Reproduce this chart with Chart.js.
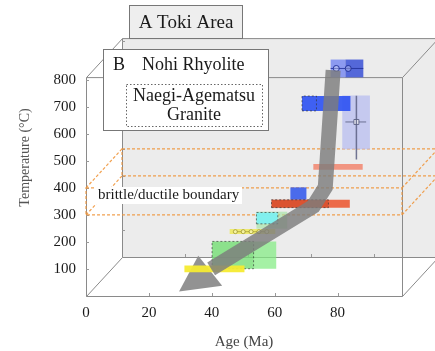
<!DOCTYPE html>
<html>
<head>
<meta charset="utf-8">
<script src="https://cdn.jsdelivr.net/npm/chart.js@4/dist/chart.umd.min.js"></script>
<style>
  html, body { margin: 0; padding: 0; background: #fff; }
</style>
</head>
<body>
<canvas id="tokiChart" width="435" height="351"></canvas>
<script>
// --- axis ticks ---
const xTicks = [0, 20, 40, 60, 80];
const yTicks = [100, 200, 300, 400, 500, 600, 700, 800];

// --- age / temperature boxes (Ma, degC) ---
const boxAgeFrom  = [81.5, 77.8, 82.5, 68.7, 68.7, 72.3, 65.0, 59.0, 59.0, 54.2, 54.2, 45.7, 40.1, 40.1, 31.3];
const boxAgeTo    = [90.3, 82.5, 88.2, 84.1, 73.3, 88.0, 70.1, 83.9, 77.1, 64.0, 61.0, 60.2, 60.5, 53.3, 50.4];
const boxTempFrom = [543, 809, 809, 685, 685, 467, 356, 327, 327, 249, 267, 229, 101, 101, 88];
const boxTempTo   = [742, 875, 875, 740, 740, 488, 402, 356, 356, 312, 309, 248, 202, 202, 113];
const boxColors = [
    'rgba(188,193,240,0.8)', 'rgba(135,150,240,0.95)', 'rgba(70,92,215,0.92)',
    'rgba(48,84,242,0.92)', 'rgba(48,84,242,0.0)', 'rgba(242,140,118,0.9)',
    'rgba(60,95,235,0.92)', 'rgba(236,92,55,0.9)', 'rgba(200,55,20,0.45)',
    'rgba(165,228,165,0.65)', 'rgba(125,240,240,0.95)', 'rgba(238,234,105,0.95)',
    'rgba(130,235,130,0.72)', 'rgba(95,200,95,0.3)', 'rgba(245,235,50,0.95)'
];
const boxDashed = [false, false, false, false, true, false, false, false, true, false, true, false, false, true, false];

// --- cooling path (grey arrow) ---
const pathAge  = [78.6, 76.1, 72.3, 39.8];
const pathTemp = [835, 402, 332, 100];
const headAge  = [29.6, 35.7, 43.3, 29.6];
const headTemp = [17, 149, 38, 17];

// --- error bars / symbols ---
const topBarAge  = [77.8, 79.6, 83.4, 88.2];
const topBarTemp = [842, 842, 842, 842];
const granBarAge  = [86.0, 86.0, 86.0];
const granBarTemp = [741, 644, 505];
const granWhiskAge  = [82.5, 86.0, 89.1];
const granWhiskTemp = [644, 644, 644];
const zrnAge  = [47.5, 50.0, 52.5, 55.0, 57.5];
const zrnTemp = [238, 238, 238, 238, 238];

// brittle/ductile boundary (degC)
const bdLow = 300, bdHigh = 400;
// front face extent of the box
const faceAgeMax = 100.5, faceTempMax = 810;
// 3D depth offset, px
const depthDx = 36, depthDy = -39;

const serif = "'Liberation Serif', 'DejaVu Serif', serif";

function toPts(xs, ys) {
    return xs.map((v, i) => ({ x: v, y: ys[i] }));
}

const datasets = [];

// grey shaft on top
datasets.push({
    data: toPts(pathAge, pathTemp),
    showLine: true,
    borderColor: 'rgba(125,125,125,0.82)',
    borderWidth: 15,
    borderJoinStyle: 'miter',
    borderCapStyle: 'butt',
    pointRadius: 0,
    tension: 0,
    clip: false,
    order: 0
});

// error bars
datasets.push({
    data: toPts(topBarAge, topBarTemp),
    showLine: true,
    borderColor: 'rgba(30,45,150,0.8)',
    borderWidth: 1,
    pointRadius: [0, 3, 3, 0],
    pointBackgroundColor: 'rgba(255,255,255,0.3)',
    pointBorderColor: 'rgba(30,45,150,0.9)',
    clip: false,
    order: 1
});
datasets.push({
    data: toPts(granBarAge, granBarTemp),
    showLine: true,
    borderColor: 'rgba(90,95,130,0.85)',
    borderWidth: 1.5,
    pointRadius: 0,
    clip: false,
    order: 1
});
datasets.push({
    data: toPts(granWhiskAge, granWhiskTemp),
    showLine: true,
    borderColor: 'rgba(90,95,130,0.85)',
    borderWidth: 1,
    pointStyle: 'rect',
    pointRadius: [0, 3.5, 0],
    pointBackgroundColor: '#f4f4fb',
    pointBorderColor: 'rgba(90,95,130,0.9)',
    clip: false,
    order: 1
});
datasets.push({
    data: toPts(zrnAge, zrnTemp),
    showLine: true,
    borderColor: 'rgba(150,140,40,0.6)',
    borderWidth: 1,
    pointRadius: 2,
    pointBackgroundColor: 'rgba(250,248,170,0.9)',
    pointBorderColor: 'rgba(150,140,40,0.7)',
    clip: false,
    order: 1
});

// boxes
boxAgeFrom.forEach((a0, i) => {
    const a1 = boxAgeTo[i], t0 = boxTempFrom[i], t1 = boxTempTo[i];
    datasets.push({
        data: toPts([a0, a1, a1, a0, a0], [t0, t0, t1, t1, t0]),
        showLine: true,
        fill: 'shape',
        backgroundColor: boxColors[i],
        borderColor: boxDashed[i] ? 'rgba(50,50,50,0.65)' : 'rgba(0,0,0,0)',
        borderWidth: boxDashed[i] ? 1 : 0,
        borderDash: [2, 2],
        pointRadius: 0,
        tension: 0,
        clip: false,
        order: 100 - i
    });
    // arrow head sits just behind the lowest yellow bar
    if (i === boxAgeFrom.length - 2) {
        datasets.push({
            data: toPts(headAge, headTemp),
            showLine: true,
            fill: 'shape',
            backgroundColor: 'rgba(140,140,140,0.95)',
            borderWidth: 0,
            pointRadius: 0,
            tension: 0,
            clip: false,
            order: 100 - i - 0.5
        });
    }
});

// --- 3D frame, drawn behind the data ---
const frame3d = {
    id: 'frame3d',
    beforeDatasetsDraw(chart) {
        const { ctx, scales: { x, y } } = chart;
        const L = x.getPixelForValue(0), R = x.getPixelForValue(faceAgeMax);
        const B = y.getPixelForValue(0), T = y.getPixelForValue(faceTempMax);
        ctx.save();

        // back wall
        ctx.fillStyle = '#ececec';
        ctx.fillRect(L + depthDx, T + depthDy, R - L, B - T);

        ctx.strokeStyle = '#8a8a8a';
        ctx.lineWidth = 1;
        ctx.beginPath();
        ctx.rect(L + 0.5, T + 0.5, R - L, B - T);
        ctx.rect(L + depthDx + 0.5, T + depthDy + 0.5, R - L, B - T);
        [[L, T], [R, T], [L, B], [R, B]].forEach(([px, py]) => {
            ctx.moveTo(px + 0.5, py + 0.5);
            ctx.lineTo(px + depthDx + 0.5, py + depthDy + 0.5);
        });
        ctx.stroke();

        // small tick marks on front and back edges
        ctx.strokeStyle = '#999';
        ctx.beginPath();
        yTicks.forEach(v => {
            const py = Math.round(y.getPixelForValue(v)) + 0.5;
            ctx.moveTo(L, py); ctx.lineTo(L + 3, py);
            ctx.moveTo(L + depthDx, py + depthDy); ctx.lineTo(L + depthDx + 3, py + depthDy);
        });
        xTicks.slice(1).forEach(v => {
            const px = Math.round(x.getPixelForValue(v)) + 0.5;
            ctx.moveTo(px, B); ctx.lineTo(px, B - 3);
            ctx.moveTo(px + depthDx, B + depthDy); ctx.lineTo(px + depthDx, B + depthDy - 3);
        });
        ctx.stroke();

        // brittle/ductile boundary slab
        const yHi = y.getPixelForValue(bdHigh), yLo = y.getPixelForValue(bdLow);
        ctx.strokeStyle = 'rgba(240,150,60,0.9)';
        ctx.lineWidth = 1.2;
        ctx.setLineDash([3, 2]);
        ctx.beginPath();
        ctx.rect(L, yHi, R - L, yLo - yHi);
        ctx.rect(L + depthDx, yHi + depthDy, R - L, yLo - yHi);
        [[L, yHi], [L, yLo], [R, yHi], [R, yLo]].forEach(([px, py]) => {
            ctx.moveTo(px, py);
            ctx.lineTo(px + depthDx, py + depthDy);
        });
        ctx.stroke();
        ctx.restore();
    },
    afterDatasetsDraw(chart) {
        const { ctx } = chart;
        ctx.save();
        ctx.textBaseline = 'middle';

        // A Toki Area
        ctx.fillStyle = '#eeeeee';
        ctx.fillRect(129, 5, 113, 33);
        ctx.strokeStyle = '#777';
        ctx.lineWidth = 1;
        ctx.strokeRect(129.5, 5.5, 113, 33);
        ctx.fillStyle = '#1a1a1a';
        ctx.font = '19px ' + serif;
        ctx.textAlign = 'center';
        ctx.fillText('A Toki Area', 186, 23);

        // B Nohi Rhyolite
        ctx.fillStyle = '#fff';
        ctx.fillRect(103, 49, 165, 81);
        ctx.strokeRect(103.5, 49.5, 165, 81);
        ctx.fillStyle = '#1a1a1a';
        ctx.font = '18px ' + serif;
        ctx.textAlign = 'left';
        ctx.fillText('B', 113, 65);
        ctx.fillText('Nohi Rhyolite', 142, 65);
        ctx.strokeStyle = '#666';
        ctx.setLineDash([1.5, 2]);
        ctx.strokeRect(126.5, 84.5, 136, 42);
        ctx.setLineDash([]);
        ctx.textAlign = 'center';
        ctx.fillText('Naegi-Agematsu', 194, 96);
        ctx.fillText('Granite', 194, 115);

        // brittle/ductile label
        ctx.fillStyle = '#fff';
        ctx.fillRect(95, 187, 147, 17);
        ctx.fillStyle = '#1a1a1a';
        ctx.font = '15px ' + serif;
        ctx.textAlign = 'left';
        ctx.fillText('brittle/ductile boundary', 98, 195.5);
        ctx.restore();
    }
};

new Chart(document.getElementById('tokiChart').getContext('2d'), {
    type: 'scatter',
    data: { datasets: datasets },
    options: {
        responsive: false,
        animation: false,
        layout: { padding: { top: 0, right: 33, left: 0, bottom: 0 } },
        plugins: { legend: { display: false }, tooltip: { enabled: false } },
        scales: {
            x: {
                type: 'linear',
                min: 0,
                max: faceAgeMax,
                afterFit: s => { s.height = 55; },
                afterBuildTicks: s => { s.ticks = xTicks.map(v => ({ value: v })); },
                grid: { display: false, drawTicks: false },
                border: { display: false },
                ticks: { padding: 8, color: '#1a1a1a', font: { family: serif, size: 15 } },
                title: {
                    display: true,
                    text: 'Age (Ma)',
                    color: '#444',
                    font: { family: serif, size: 15 },
                    padding: { top: 0, bottom: 0 }
                }
            },
            y: {
                type: 'linear',
                min: 0,
                max: 1025,
                afterFit: s => { s.width = 86; },
                afterBuildTicks: s => { s.ticks = yTicks.map(v => ({ value: v })); },
                grid: { display: false, drawTicks: false },
                border: { display: false },
                ticks: { padding: 10, color: '#1a1a1a', font: { family: serif, size: 15 } },
                title: {
                    display: true,
                    text: 'Temperature (°C)',
                    color: '#555',
                    font: { family: serif, size: 14 },
                    padding: { top: 17, bottom: 0 }
                }
            }
        }
    },
    plugins: [frame3d]
});
</script>
</body>
</html>
